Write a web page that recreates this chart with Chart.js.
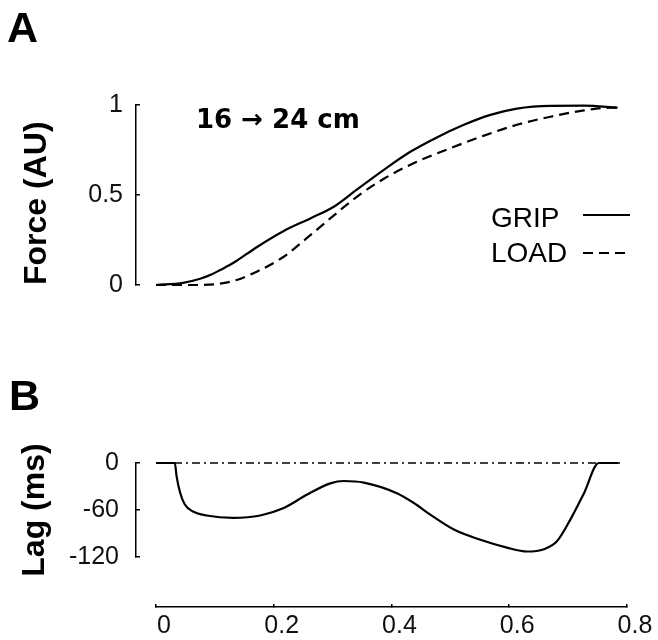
<!DOCTYPE html>
<html>
<head>
<meta charset="utf-8">
<script src="https://cdn.jsdelivr.net/npm/chart.js@4.4.1/dist/chart.umd.min.js"></script>
<style>
  html, body { margin: 0; padding: 0; background: #fff; }
  #wrap { position: relative; width: 658px; height: 640px; overflow: hidden; background: #fff; }
  canvas { position: absolute; left: 0; }
  #ca { top: 0; }
  #cb { top: 320px; }
</style>
</head>
<body>
<div id="wrap">
  <canvas id="ca" width="658" height="320"></canvas>
  <canvas id="cb" width="658" height="320"></canvas>
</div>
<script>
// ---------- data ----------
const GRIP_T = [0, 0.046, 0.075, 0.092, 0.11, 0.131, 0.171, 0.217, 0.262, 0.302, 0.341, 0.387, 0.432, 0.477, 0.523, 0.568, 0.613, 0.67, 0.727, 0.784];
const GRIP_F = [0, 0.012, 0.035, 0.055, 0.085, 0.122, 0.21, 0.30, 0.37, 0.435, 0.53, 0.64, 0.74, 0.82, 0.89, 0.945, 0.98, 0.995, 0.996, 0.985];

const LOAD_T = [0, 0.058, 0.103, 0.137, 0.171, 0.217, 0.256, 0.296, 0.341, 0.387, 0.443, 0.5, 0.557, 0.613, 0.67, 0.727, 0.772, 0.784];
const LOAD_F = [0, 0, 0.005, 0.028, 0.074, 0.157, 0.26, 0.37, 0.49, 0.59, 0.685, 0.76, 0.83, 0.89, 0.935, 0.97, 0.985, 0.985];

const LAG_T  = [0, 0.032, 0.035, 0.041, 0.049, 0.063, 0.086, 0.131, 0.177, 0.217, 0.256, 0.296, 0.319, 0.353, 0.409, 0.438, 0.466, 0.506, 0.551, 0.596, 0.63, 0.659, 0.681, 0.704, 0.727, 0.752, 0.785];
const LAG_MS = [0, 0, -17, -38, -53, -62, -67, -70, -67, -57.5, -40.6, -26, -23, -25, -38.5, -51, -66, -85, -98, -108, -113, -110, -100, -72, -38.5, 0, 0];

const ZERO_T  = [0, 0.795];
const ZERO_MS = [0, 0];

const FORCE_TICKS = [0, 0.5, 1];
const LAG_TICKS   = [-120, -60, 0];
const TIME_TICKS  = [0, 0.2, 0.4, 0.6, 0.8];

const SERIES_A = ['GRIP', 'LOAD'];
const PANEL_LABELS = ['A', 'B'];
const CONDITION = '16 \u2192 24 cm';
const Y_TITLES = ['Force (AU)', 'Lag (ms)'];

// ---------- helpers ----------
const FAM = "'Liberation Sans', Arial, Helvetica, sans-serif";
Chart.defaults.font.family = FAM;
Chart.defaults.color = '#000';

const pts = (xs, ys) => xs.map((x, i) => ({ x: x, y: ys[i] }));
const setTicks = (arr) => (s) => { s.ticks = arr.map(v => ({ value: v })); };
const plainLabel = (v) => String(Math.round(v * 1000) / 1000);

// offset axes: move the axis lines away from the data area
const axisOffset = {
  id: 'axisOffset',
  afterLayout(chart, args, o) {
    const y = chart.scales.y, x = chart.scales.x;
    if (o.dx) { y.left += o.dx; y.right += o.dx; }
    if (o.dy) { x.top += o.dy; x.bottom = chart.height; }
  }
};

// extra texts: panel letters, condition label
const texts = {
  id: 'texts',
  afterDraw(chart, args, o) {
    const ctx = chart.ctx;
    ctx.save();
    ctx.fillStyle = '#000';
    ctx.textBaseline = 'alphabetic';
    ctx.textAlign = 'left';
    (o.items || []).forEach(t => {
      ctx.font = t.font;
      ctx.fillText(t.text, t.x, t.y);
    });
    ctx.restore();
  }
};

// legend: label text followed by a line sample to its right
const lineLegend = {
  id: 'lineLegend',
  afterDraw(chart, args, o) {
    if (!o.show) return;
    const ctx = chart.ctx;
    ctx.save();
    ctx.font = o.font;
    ctx.fillStyle = '#000';
    ctx.textBaseline = 'alphabetic';
    ctx.textAlign = 'left';
    chart.data.datasets.forEach((ds, i) => {
      ctx.fillText(ds.label, o.textX, o.baselines[i]);
      ctx.beginPath();
      ctx.setLineDash(ds.borderDash || []);
      ctx.lineWidth = ds.borderWidth;
      ctx.strokeStyle = ds.borderColor;
      ctx.moveTo(o.lineX1, o.lineYs[i]);
      ctx.lineTo(o.lineX2, o.lineYs[i]);
      ctx.stroke();
    });
    ctx.restore();
  }
};

const tickFont = { size: 25, family: FAM, lineHeight: 1 };
const titleFont = { size: 32, weight: 'bold', family: FAM, lineHeight: 1 };

function yAxis(min, max, tickArr, title, align, titlePad, labelPad) {
  return {
    type: 'linear', position: 'left', min: min, max: max,
    afterBuildTicks: setTicks(tickArr),
    afterFit: (s) => { s.width = 156; s.paddingTop = 0; s.paddingBottom = 0; s.paddingLeft = 0; s.paddingRight = 0; },
    grid: { display: true, drawOnChartArea: false, drawTicks: true, tickLength: -4, color: '#000', lineWidth: 1.5 },
    border: { display: true, color: '#000', width: 1.5 },
    ticks: { font: tickFont, color: '#111', padding: labelPad, callback: plainLabel },
    title: { display: true, text: title, font: titleFont, color: '#000', align: align, padding: { top: titlePad, bottom: 0 } }
  };
}

// ---------- Panel A ----------
new Chart(document.getElementById('ca'), {
  type: 'line',
  data: {
    datasets: [
      { label: SERIES_A[0], data: pts(GRIP_T, GRIP_F), borderColor: '#000', borderWidth: 2.2,
        pointRadius: 0, cubicInterpolationMode: 'monotone', fill: false, clip: false },
      { label: SERIES_A[1], data: pts(LOAD_T, LOAD_F), borderColor: '#000', borderWidth: 2.2, borderDash: [10, 6],
        pointRadius: 0, cubicInterpolationMode: 'monotone', fill: false, clip: false }
    ]
  },
  options: {
    responsive: false, animation: false, events: [],
    layout: { padding: { left: 0, right: 31, top: 105, bottom: 35 } },
    scales: {
      x: { type: 'linear', min: 0, max: 0.8, display: false,
           afterFit: (s) => { s.height = 0; s.paddingLeft = 0; s.paddingRight = 0; } },
      y: yAxis(0, 1, FORCE_TICKS, Y_TITLES[0], 'start', 41, 17)
    },
    plugins: {
      legend: { display: false }, tooltip: { enabled: false },
      axisOffset: { dx: -20, dy: 0 },
      texts: { items: [
        { text: PANEL_LABELS[0], x: 7, y: 42, font: 'bold 43px ' + FAM },
        { text: CONDITION, x: 196, y: 128, font: "bold 26px 'DejaVu Sans', sans-serif" }
      ] },
      lineLegend: { show: true, font: '28px ' + FAM, textX: 491, baselines: [227, 262],
                    lineX1: 583, lineX2: 630, lineYs: [215, 253] }
    }
  },
  plugins: [axisOffset, texts, lineLegend]
});

// ---------- Panel B ----------
new Chart(document.getElementById('cb'), {
  type: 'line',
  data: {
    datasets: [
      { label: 'zero', data: pts(ZERO_T, ZERO_MS), borderColor: '#000', borderWidth: 1.3, borderDash: [8, 4, 2, 4],
        pointRadius: 0, fill: false, clip: false },
      { label: 'lag', data: pts(LAG_T, LAG_MS), borderColor: '#000', borderWidth: 2.2,
        pointRadius: 0, cubicInterpolationMode: 'monotone', fill: false, clip: false }
    ]
  },
  options: {
    responsive: false, animation: false, events: [],
    layout: { padding: { left: 0, right: 31, top: 143, bottom: 83 } },
    scales: {
      x: { type: 'linear', position: 'bottom', min: 0, max: 0.8,
           afterBuildTicks: setTicks(TIME_TICKS),
           afterFit: (s) => { s.height = 0; s.paddingLeft = 0; s.paddingRight = 0; s.paddingTop = 0; s.paddingBottom = 0; },
           grid: { display: true, drawOnChartArea: false, drawTicks: true, tickLength: -3, color: '#000', lineWidth: 1.5 },
           border: { display: true, color: '#000', width: 1.5 },
           ticks: { font: tickFont, color: '#111', padding: 10, labelOffset: 8, maxRotation: 0, minRotation: 0,
                    autoSkip: false, callback: plainLabel } },
      y: yAxis(-120, 0, LAG_TICKS, Y_TITLES[1], 'center', 39, 21)
    },
    plugins: {
      legend: { display: false }, tooltip: { enabled: false },
      axisOffset: { dx: -20, dy: 50 },
      texts: { items: [
        { text: PANEL_LABELS[1], x: 9, y: 90, font: 'bold 43px ' + FAM }
      ] },
      lineLegend: { show: false }
    }
  },
  plugins: [axisOffset, texts, lineLegend]
});
</script>
</body>
</html>
